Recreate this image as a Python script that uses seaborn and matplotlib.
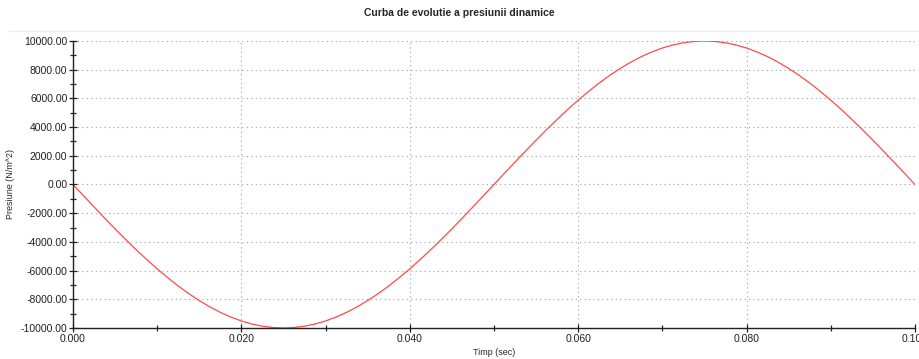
import seaborn as sns
import matplotlib.pyplot as plt
import matplotlib
from matplotlib.ticker import MultipleLocator, FormatStrFormatter
import pandas as pd

matplotlib.use("Agg")

# time samples (sec) and pressure (N/m^2)
timp = [round(i * 0.00125, 5) for i in range(81)]
presiune = [
    0, -785, -1560, -2334, -3090, -3827, -4540, -5225, -5878, -6494,
    -7071, -7604, -8090, -8526, -8910, -9239, -9511, -9724, -9877, -9969,
    -10000, -9969, -9877, -9724, -9511, -9239, -8910, -8526, -8090, -7604,
    -7071, -6494, -5878, -5225, -4540, -3827, -3090, -2334, -1560, -785,
    0, 785, 1560, 2334, 3090, 3827, 4540, 5225, 5878, 6494,
    7071, 7604, 8090, 8526, 8910, 9239, 9511, 9724, 9877, 9969,
    10000, 9969, 9877, 9724, 9511, 9239, 8910, 8526, 8090, 7604,
    7071, 6494, 5878, 5225, 4540, 3827, 3090, 2334, 1560, 785, 0,
]
titlu = "Curba de evolutie a presiunii dinamice"
eticheta_x = "Timp (sec)"
eticheta_y = "Presiune (N/m^2)"

df = pd.DataFrame({"t": timp, "p": presiune})

sns.set_style("white")
plt.rcParams["font.family"] = ["Liberation Sans", "DejaVu Sans"]

fig = plt.figure(figsize=(9.19, 3.59), dpi=100)
ax = fig.add_axes([0.0794, 0.0864, 0.9162, 0.7994])

sns.lineplot(data=df, x="t", y="p", ax=ax, color="#ff4a4a", linewidth=0.9)

ax.set_xlim(0, 0.1)
ax.set_ylim(-10000, 10000)
ax.xaxis.set_major_locator(MultipleLocator(0.02))
ax.xaxis.set_minor_locator(MultipleLocator(0.01))
ax.yaxis.set_major_locator(MultipleLocator(2000))
ax.yaxis.set_minor_locator(MultipleLocator(1000))
ax.xaxis.set_major_formatter(FormatStrFormatter("%.3f"))
ax.yaxis.set_major_formatter(FormatStrFormatter("%.2f"))

ax.grid(True, which="major", color="#a0a0a0", linestyle=(0, (1, 3)),
        linewidth=0.8)
for s in ["top", "right"]:
    ax.spines[s].set_visible(False)
for s in ["left", "bottom"]:
    ax.spines[s].set_color("#202020")
    ax.spines[s].set_linewidth(1.0)

ax.tick_params(which="major", direction="inout", length=6, width=0.9,
               labelsize=7.5, colors="#202020", pad=1)
ax.tick_params(which="minor", direction="inout", length=5, width=0.9,
               colors="#202020")
ax.tick_params(left=True, bottom=True, which="both")

ax.set_xlabel(eticheta_x, fontsize=6.5, labelpad=3)
ax.set_ylabel(eticheta_y, fontsize=6.5, labelpad=4)

fig.text(0.5, 0.965, titlu, ha="center", va="center", fontsize=7.5,
         fontweight="bold")
fig.add_artist(plt.Line2D([0.01, 1.0], [0.914, 0.914], color="#eeeeee",
                          linewidth=1.0, transform=fig.transFigure))

plt.savefig("out.png", dpi=100)
